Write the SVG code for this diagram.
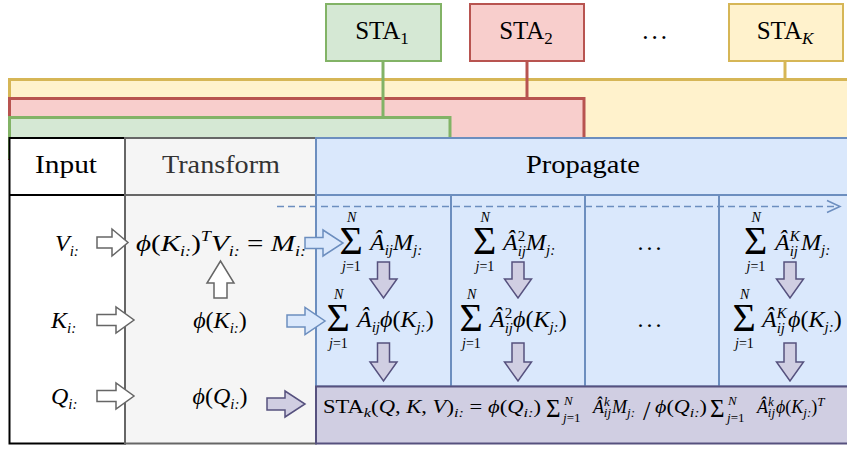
<svg xmlns="http://www.w3.org/2000/svg" width="847" height="449" viewBox="0 0 847 449">
<style>
.t{font-family:'Liberation Serif','DejaVu Serif',serif;fill:#000}
.h{font-size:25px}
.m{font-size:24px}
.i{font-style:italic}
.s{font-size:15px}
.b{font-size:18px}
.bs{font-size:13px}
.sig{font-size:40px;font-style:normal}
.sigs{font-size:25px;font-style:normal}
.lim{font-size:14px}
.box{stroke-width:2}
.band{stroke-width:3}
.cell{fill:#dae8fc;stroke:#6c8ebf;stroke-width:2}
.hol{fill:#ffffff;stroke:#666666;stroke-width:1.5}
.blu{fill:#dae8fc;stroke:#6c8ebf;stroke-width:1.5}
.pur{fill:#d0cee2;stroke:#56517e;stroke-width:1.5}
</style>
<rect x="0" y="0" width="847" height="449" fill="#ffffff"/>

<g id="band-yellow"><rect class="band" x="9.5" y="79.5" width="845" height="70" fill="#fff2cc" stroke="#d6b656"/></g>
<g id="band-red"><rect class="band" x="9.5" y="98.5" width="574.5" height="60" fill="#f8cecc" stroke="#b85450"/></g>
<g id="band-green"><rect class="band" x="9.5" y="117.5" width="440.5" height="40" fill="#d5e8d4" stroke="#82b366"/></g>

<g id="sta1"><rect class="box" x="326" y="4" width="115" height="57" fill="#d5e8d4" stroke="#82b366"/>
<text class="t h" x="382" y="39" text-anchor="middle" font-size="26">STA<tspan font-size="17" dy="5">1</tspan></text></g>
<g id="sta2"><rect class="box" x="470" y="4" width="114" height="57" fill="#f8cecc" stroke="#b85450"/>
<text class="t h" x="526" y="39" text-anchor="middle" font-size="26">STA<tspan font-size="17" dy="5">2</tspan></text></g>
<g id="sta-dots"><text class="t h" x="656" y="39" text-anchor="middle" letter-spacing="3">...</text></g>
<g id="staK"><rect class="box" x="729" y="4" width="114" height="57" fill="#fff2cc" stroke="#d6b656"/>
<text class="t h" x="785" y="39" text-anchor="middle" font-size="26">STA<tspan class="i" font-size="17" dy="5">K</tspan></text></g>

<g id="input-col">
<rect x="9.5" y="138" width="115.5" height="305.5" fill="#ffffff" stroke="#000000" stroke-width="2"/>
<line x1="9.5" y1="195" x2="125" y2="195" stroke="#000000" stroke-width="2"/>
<text class="t h" x="35" y="173" textLength="62" lengthAdjust="spacingAndGlyphs">Input</text>
<text class="t m i" x="55" y="251">V<tspan class="s" dy="5">i:</tspan></text>
<text class="t m i" x="51" y="328">K<tspan class="s" dy="5">i:</tspan></text>
<text class="t m i" x="51" y="404">Q<tspan class="s" dy="5">i:</tspan></text>
</g>

<g id="transform-col">
<rect x="125" y="138" width="191" height="305.5" fill="#f5f5f5" stroke="#666666" stroke-width="2"/>
<line x1="125" y1="195" x2="316" y2="195" stroke="#666666" stroke-width="2"/>
<text class="t h" x="162" y="173" style="fill:#333333" textLength="118" lengthAdjust="spacingAndGlyphs">Transform</text>
<text class="t m" x="136" y="251" textLength="170" lengthAdjust="spacingAndGlyphs"><tspan class="i">ϕ</tspan>(<tspan class="i">K</tspan><tspan class="s i" dy="5">i:</tspan><tspan dy="-5">)</tspan><tspan class="s i" dy="-10">T</tspan><tspan class="i" dy="10">V</tspan><tspan class="s i" dy="5">i:</tspan><tspan dy="-5"> = </tspan><tspan class="i">M</tspan><tspan class="s i" dy="5">i:</tspan></text>
<text class="t m" x="220" y="328" text-anchor="middle"><tspan class="i">ϕ</tspan>(<tspan class="i">K</tspan><tspan class="s i" dy="5">i:</tspan><tspan dy="-5">)</tspan></text>
<text class="t m" x="220" y="404" text-anchor="middle"><tspan class="i">ϕ</tspan>(<tspan class="i">Q</tspan><tspan class="s i" dy="5">i:</tspan><tspan dy="-5">)</tspan></text>
</g>

<g id="propagate-col">
<rect class="cell" x="316" y="138" width="540" height="57"/>
<text class="t h" x="526" y="173" textLength="114" lengthAdjust="spacingAndGlyphs">Propagate</text>
<rect class="cell" x="316" y="195" width="135" height="191.5"/>
<rect class="cell" x="451" y="195" width="134" height="191.5"/>
<rect class="cell" x="585" y="195" width="134" height="191.5"/>
<rect class="cell" x="719" y="195" width="136" height="191.5"/>
</g>

<g id="hop1">
<text class="t m"><tspan class="lim i" x="347" y="222">N</tspan><tspan class="sig" x="339.5" y="254">Σ</tspan><tspan class="lim" x="342" y="271"><tspan class="i">j</tspan>=1</tspan><tspan class="i" x="370" y="250">Â</tspan><tspan class="s i" dy="5">ij</tspan><tspan class="i" dy="-5">M</tspan><tspan class="s i" dy="5">j:</tspan></text>
<text class="t m"><tspan class="lim i" x="334" y="299">N</tspan><tspan class="sig" x="326.5" y="331">Σ</tspan><tspan class="lim" x="329" y="348"><tspan class="i">j</tspan>=1</tspan><tspan class="i" x="357" y="327">Â</tspan><tspan class="s i" dy="5">ij</tspan><tspan class="i" dy="-5">ϕ</tspan>(<tspan class="i">K</tspan><tspan class="s i" dy="5">j:</tspan><tspan dy="-5">)</tspan></text>
</g>

<g id="hop2">
<text class="t m"><tspan class="lim i" x="480.5" y="222">N</tspan><tspan class="sig" x="473" y="254">Σ</tspan><tspan class="lim" x="475.5" y="271"><tspan class="i">j</tspan>=1</tspan><tspan class="i" x="503" y="250">Â</tspan><tspan class="s" dy="-9">2</tspan><tspan class="s i" dx="-7.5" dy="15">ij</tspan><tspan class="i" dy="-6">M</tspan><tspan class="s i" dy="5">j:</tspan></text>
<text class="t m"><tspan class="lim i" x="467" y="299">N</tspan><tspan class="sig" x="459.5" y="331">Σ</tspan><tspan class="lim" x="462" y="348"><tspan class="i">j</tspan>=1</tspan><tspan class="i" x="490" y="327">Â</tspan><tspan class="s" dy="-9">2</tspan><tspan class="s i" dx="-7.5" dy="15">ij</tspan><tspan class="i" dy="-6">ϕ</tspan>(<tspan class="i">K</tspan><tspan class="s i" dy="5">j:</tspan><tspan dy="-5">)</tspan></text>
</g>

<g id="hop-dots">
<text class="t m" x="651" y="250" text-anchor="middle" letter-spacing="3">...</text>
<text class="t m" x="651" y="327" text-anchor="middle" letter-spacing="3">...</text>
</g>

<g id="hopK">
<text class="t m"><tspan class="lim i" x="751.5" y="222">N</tspan><tspan class="sig" x="744" y="254">Σ</tspan><tspan class="lim" x="746.5" y="271"><tspan class="i">j</tspan>=1</tspan><tspan class="i" x="775" y="250">Â</tspan><tspan class="s i" dy="-9">K</tspan><tspan class="s i" dx="-10" dy="15">ij</tspan><tspan class="i" dx="3" dy="-6">M</tspan><tspan class="s i" dy="5">j:</tspan></text>
<text class="t m"><tspan class="lim i" x="740" y="299">N</tspan><tspan class="sig" x="732.5" y="331">Σ</tspan><tspan class="lim" x="735" y="348"><tspan class="i">j</tspan>=1</tspan><tspan class="i" x="762" y="327">Â</tspan><tspan class="s i" dy="-9">K</tspan><tspan class="s i" dx="-10" dy="15">ij</tspan><tspan class="i" dx="3" dy="-6">ϕ</tspan>(<tspan class="i">K</tspan><tspan class="s i" dy="5">j:</tspan><tspan dy="-5">)</tspan></text>
</g>

<g id="output">
<rect x="316" y="386.5" width="540" height="57" fill="#d0cee2" stroke="#56517e" stroke-width="2"/>
<text class="t b" x="323" y="413" textLength="218" lengthAdjust="spacingAndGlyphs">STA<tspan class="bs i" dy="4">k</tspan><tspan dy="-4">(</tspan><tspan class="i">Q</tspan>, <tspan class="i">K</tspan>, <tspan class="i">V</tspan>)<tspan class="bs i" dy="4">i:</tspan><tspan dy="-4"> = </tspan><tspan class="i">ϕ</tspan>(<tspan class="i">Q</tspan><tspan class="bs i" dy="4">i:</tspan><tspan dy="-4">)</tspan></text>
<text class="t b"><tspan class="sigs" x="546" y="417">Σ</tspan><tspan class="bs i" x="564" y="405">N</tspan><tspan class="bs" x="563" y="422"><tspan class="i">j</tspan>=1</tspan><tspan class="i" x="593" y="413">Â</tspan><tspan class="bs i" dy="-7">k</tspan><tspan class="bs i" dx="-6" dy="11">ij</tspan><tspan class="i" dx="1" dy="-4">M</tspan><tspan class="bs i" dy="4">j:</tspan></text>
<text class="t" font-size="27" x="643" y="420">/</text>
<text class="t b" x="655" y="413" textLength="52" lengthAdjust="spacingAndGlyphs"><tspan class="i">ϕ</tspan>(<tspan class="i">Q</tspan><tspan class="bs i" dy="4">i:</tspan><tspan dy="-4">)</tspan></text>
<text class="t b"><tspan class="sigs" x="710" y="417">Σ</tspan><tspan class="bs i" x="728" y="405">N</tspan><tspan class="bs" x="727" y="422"><tspan class="i">j</tspan>=1</tspan><tspan class="i" x="757" y="413">Â</tspan><tspan class="bs i" dy="-7">k</tspan><tspan class="bs i" dx="-6" dy="11">ij</tspan><tspan class="i" dx="1" dy="-4">ϕ</tspan>(<tspan class="i">K</tspan><tspan class="bs i" dy="4">j:</tspan><tspan dy="-4">)</tspan><tspan class="bs i" dy="-7">T</tspan></text>
</g>

<g id="connectors">
<line x1="383" y1="61" x2="383" y2="117" stroke="#82b366" stroke-width="3"/>
<line x1="527" y1="61" x2="527" y2="98" stroke="#b85450" stroke-width="3"/>
<line x1="785" y1="61" x2="785" y2="79" stroke="#d6b656" stroke-width="3"/>
<line x1="277" y1="206.5" x2="839" y2="206.5" stroke="#6c8ebf" stroke-width="1.5" stroke-dasharray="7,4"/>
<polyline points="827,200.5 840,206.5 827,212.5" fill="none" stroke="#6c8ebf" stroke-width="1.5"/>
<path class="hol" d="M97,237 L112,237 L112,229 L128,242.5 L112,256 L112,248 L97,248 Z"/>
<path class="hol" d="M97,314.5 L116,314.5 L116,307 L134,320 L116,333 L116,325.5 L97,325.5 Z"/>
<path class="hol" d="M97,390.5 L116,390.5 L116,383 L134,396 L116,409 L116,401.5 L97,401.5 Z"/>
<path class="hol" d="M214,298 L214,283 L207,283 L220.5,261 L234,283 L227,283 L227,298 Z"/>
<path class="blu" d="M305,237.5 L323,237.5 L323,230 L343,243 L323,256 L323,248.5 L305,248.5 Z"/>
<path class="blu" d="M287,315 L305,315 L305,307.5 L325,321 L305,334.5 L305,327 L287,327 Z"/>
<path class="pur" d="M267,398 L285,398 L285,391 L305,404 L285,417 L285,410 L267,410 Z"/>
<path class="pur" d="M377.5,262 L389.5,262 L389.5,279 L397,279 L383.5,298 L370,279 L377.5,279 Z"/>
<path class="pur" d="M377.5,343 L389.5,343 L389.5,362 L397,362 L383.5,381 L370,362 L377.5,362 Z"/>
<path class="pur" d="M512,262 L524,262 L524,279 L531.5,279 L518,298 L504.5,279 L512,279 Z"/>
<path class="pur" d="M512,343 L524,343 L524,362 L531.5,362 L518,381 L504.5,362 L512,362 Z"/>
<path class="pur" d="M784,262 L796,262 L796,279 L803.5,279 L790,298 L776.5,279 L784,279 Z"/>
<path class="pur" d="M784,343 L796,343 L796,362 L803.5,362 L790,381 L776.5,362 L784,362 Z"/>
</g>
</svg>
